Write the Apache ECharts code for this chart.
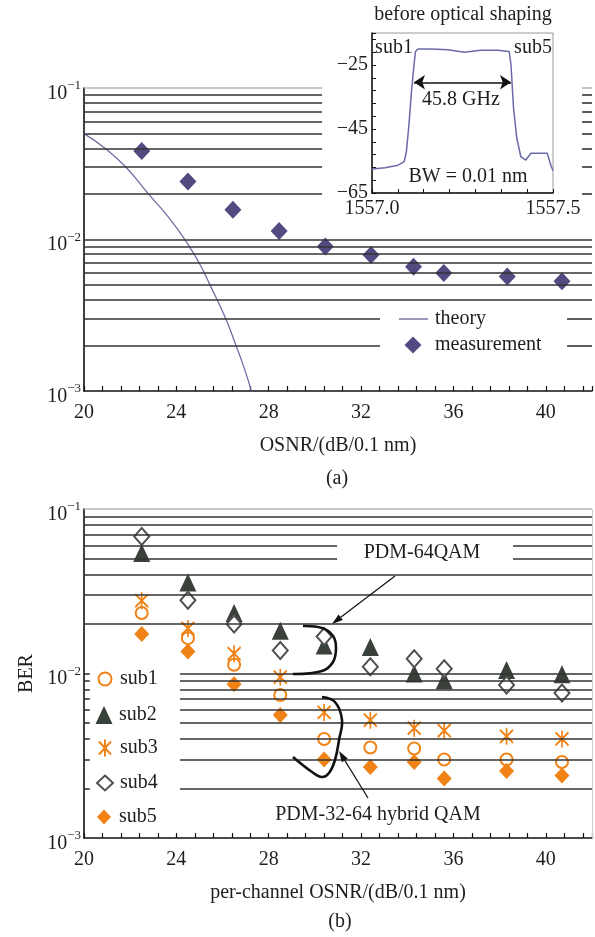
<!DOCTYPE html>
<html>
<head>
<meta charset="utf-8">
<script src="https://cdn.jsdelivr.net/npm/echarts@6/dist/echarts.min.js"></script>
<style>
html,body{margin:0;padding:0;background:#fff;}
#c{width:595px;height:937px;}
</style>
</head>
<body>
<div id="c"></div>
<script>
// ---------- data ----------
const osnrA = [22.5, 24.5, 26.45, 28.45, 30.45, 32.43, 34.27, 35.58, 38.33, 40.7];
const berMeasured = [0.0384, 0.0241, 0.0157, 0.0114, 0.0090, 0.0079, 0.0066, 0.0060, 0.0057, 0.0053];
const theoryOsnr = [20, 20.91, 21.82, 22.79, 23.7, 24.42, 24.99, 25.46, 26.14, 26.58, 26.95, 27.25];
const theoryBer = [0.05, 0.04, 0.03, 0.02, 0.0138, 0.0097, 0.007, 0.005, 0.003, 0.002, 0.0014, 0.001];

const osnrB = [22.5, 24.5, 26.5, 28.5, 30.4, 32.4, 34.3, 35.6, 38.3, 40.7];
const subNames = ['sub1', 'sub2', 'sub3', 'sub4', 'sub5'];
const sub1 = [0.0233, 0.0164, 0.0113, 0.0074, 0.0040, 0.00355, 0.0035, 0.0030, 0.0030, 0.0029];
const sub2 = [0.054, 0.0358, 0.0233, 0.0182, 0.0148, 0.0145, 0.0100, 0.0091, 0.0105, 0.0099];
const sub3 = [0.0277, 0.0188, 0.0132, 0.0095, 0.0058, 0.0052, 0.00465, 0.0045, 0.00415, 0.0040];
const sub4 = [0.068, 0.0279, 0.0200, 0.0138, 0.0168, 0.0110, 0.0123, 0.0107, 0.0085, 0.0076];
const sub5 = [0.0174, 0.0136, 0.0086, 0.0056, 0.0030, 0.0027, 0.0029, 0.0023, 0.00255, 0.0024];

const specWl = [1557.000, 1557.036, 1557.072, 1557.089, 1557.095, 1557.102, 1557.109, 1557.116, 1557.120, 1557.127, 1557.164, 1557.210, 1557.255, 1557.300, 1557.347, 1557.379, 1557.384, 1557.391, 1557.400, 1557.411, 1557.425, 1557.439, 1557.466, 1557.484, 1557.494, 1557.500];
const specPow = [-57.5, -57.1, -56.3, -55.2, -52.1, -43.8, -33.3, -25.0, -20.8, -20.0, -20.0, -20.2, -21.0, -20.4, -20.4, -20.8, -25.0, -38.5, -47.9, -53.6, -54.7, -52.6, -52.6, -52.6, -56.3, -58.0];

// log grid levels (horizontal lines)
const gridLevels = [0.002, 0.003, 0.004, 0.005, 0.006, 0.007, 0.008, 0.009, 0.01,
                    0.02, 0.03, 0.04, 0.05, 0.06, 0.07, 0.08, 0.09, 0.1];
const bwArrow = [1557.116, 1557.384, -30.4];

// ---------- layout ----------
const FONT = 'Liberation Serif';
const TXT = '#1e1e1e';
const ORANGE = '#f08216';
const DARK = '#3a403a';
const PURPLE = '#524a80';
const gapsA = [
  {levels: [0.02, 0.03, 0.04, 0.05, 0.06, 0.07, 0.08, 0.09, 0.1], x: [30.31, 41.57]},
  {levels: [0.002, 0.003], x: [32.82, 40.92]}
];
const gapsB = [
  {levels: [0.05, 0.06], x: [30.96, 38.58]},
  {levels: [0.002, 0.003, 0.004, 0.005, 0.006, 0.007, 0.008, 0.009, 0.01], x: [20.25, 24.16]}
];

function buildGridLines(gaps, xMin, xMax) {
  const out = [];
  gridLevels.forEach(v => {
    const style = {color: v === 0.1 ? '#b4b4b4' : '#333', width: 1.6, type: 'solid'};
    let segs = [[xMin, xMax]];
    gaps.forEach(g => {
      if (g.levels.indexOf(v) >= 0) {
        const ns = [];
        segs.forEach(s => {
          if (g.x[0] > s[0]) ns.push([s[0], Math.min(s[1], g.x[0])]);
          if (g.x[1] < s[1]) ns.push([Math.max(s[0], g.x[1]), s[1]]);
        });
        segs = ns;
      }
    });
    segs.forEach(s => out.push([{coord: [s[0], v], lineStyle: style}, {coord: [s[1], v]}]));
  });
  return out;
}

function yLab(v) {
  const e = Math.round(Math.log10(v));
  return '{b|10}{s|\u2212' + Math.abs(e) + '}';
}
const yRich = {
  b: {fontFamily: FONT, fontSize: 20, color: TXT, lineHeight: 24, verticalAlign: 'bottom'},
  s: {fontFamily: FONT, fontSize: 13, color: TXT, lineHeight: 13, verticalAlign: 'top'}
};

function xAxisCfg(idx, name) {
  return {
    type: 'value', gridIndex: idx, min: 20, max: 42, interval: 4,
    name: name, nameLocation: 'middle', nameGap: 45,
    nameTextStyle: {fontFamily: FONT, fontSize: 20, color: TXT},
    axisLine: {lineStyle: {color: '#111', width: 1.6}},
    axisTick: {inside: true, length: 5, lineStyle: {color: '#111', width: 1.2}},
    minorTick: {show: true, splitNumber: 5, length: 5, lineStyle: {color: '#111', width: 1.2}},
    axisLabel: {fontFamily: FONT, fontSize: 20, color: TXT, margin: 12, showMaxLabel: false},
    splitLine: {show: false}, minorSplitLine: {show: false}
  };
}
function yAxisCfg(idx, name) {
  return {
    type: 'log', logBase: 10, gridIndex: idx, min: 0.001, max: 0.1,
    name: name || '', nameLocation: 'middle', nameGap: 47, nameRotate: 90,
    nameTextStyle: {fontFamily: FONT, fontSize: 20, color: TXT},
    axisLine: {lineStyle: {color: '#111', width: 1.6}},
    axisTick: {show: false},
    axisLabel: {formatter: yLab, rich: yRich, margin: 3, padding: [7, 0, 0, 0]},
    splitLine: {show: false}
  };
}

function arrow(x1, y1, x2, y2) {
  const dx = x2 - x1, dy = y2 - y1, L = Math.sqrt(dx * dx + dy * dy);
  const ux = dx / L, uy = dy / L, nx = -uy, ny = ux;
  const bx = x2 - ux * 11, by = y2 - uy * 11;
  return [
    {type: 'line', z: 100, shape: {x1: x1, y1: y1, x2: bx, y2: by}, style: {stroke: '#111', lineWidth: 1.2}},
    {type: 'polygon', z: 100, shape: {points: [[x2, y2], [bx + nx * 3.5, by + ny * 3.5], [bx - nx * 3.5, by - ny * 3.5]]}, style: {fill: '#111'}}
  ];
}
function txt(t, x, y, size) {
  return {type: 'text', z: 100, x: x, y: y,
    style: {text: t, font: (size || 20) + 'px "' + FONT + '"', fill: TXT, align: 'center', verticalAlign: 'middle'}};
}
const asterisk = 'path://M6,0 L6,17 M0,2 L12,15 M0,15 L12,2';
const legendText = {fontFamily: FONT, fontSize: 20, color: TXT, lineHeight: 20};

// legend boxes: [name, iconCenterX, rowCenterY, iconW, iconH, textStartX]
const legendLayout = [
  ['measurement', 413, 345, 17, 17, 435],
  ['sub1', 104, 679, 13, 13, 119],
  ['sub2', 104, 715, 17, 18, 119],
  ['sub3', 104, 748, 12, 17, 119],
  ['sub4', 104, 783, 16, 15, 119],
  ['sub5', 104, 817, 14, 15, 119]
];
const legends = [
  {data: [{name: 'theory', icon: 'rect'}], orient: 'vertical', left: 399, top: 309, padding: 0,
    itemWidth: 29, itemHeight: 1.4, textStyle: Object.assign({padding: [0, 0, 0, 2]}, legendText)}
].concat(legendLayout.map(l => {
  const left = l[1] - l[3] / 2;
  const pad = l[5] - (left + l[3] + 5);
  return {data: [l[0]], orient: 'vertical', left: left, top: l[2] - 10, padding: 0,
    itemWidth: l[3], itemHeight: l[4],
    textStyle: Object.assign({padding: [0, 0, 0, pad]}, legendText)};
}));

const subData = [sub1, sub2, sub3, sub4, sub5];
const subSymbols = ['emptyCircle', 'triangle', asterisk, 'emptyDiamond', 'diamond'];
const subSizes = [12, [17, 18], [13, 17], [15, 17], [15, 16]];
const subItemStyles = [
  {color: ORANGE, borderColor: ORANGE, borderWidth: 1.7, opacity: 1},
  {color: DARK, opacity: 1},
  {color: 'rgba(0,0,0,0)', borderColor: ORANGE, borderWidth: 1.9, opacity: 1},
  {color: '#505050', borderColor: '#505050', borderWidth: 1.5, opacity: 1},
  {color: ORANGE, opacity: 1}
];

const chart = echarts.init(document.getElementById('c'), null, {renderer: 'canvas'});
const option = {
  animation: false,
  backgroundColor: '#fff',
  grid: [
    {left: 84, top: 88, width: 508, height: 303},
    {left: 84, top: 509, width: 508, height: 329},
    {left: 372, top: 33, width: 181, height: 160, show: true, backgroundColor: '#fff', borderColor: '#9a9a9a', borderWidth: 1}
  ],
  xAxis: [
    xAxisCfg(0, 'OSNR/(dB/0.1 nm)'),
    xAxisCfg(1, 'per-channel OSNR/(dB/0.1 nm)'),
    {
      type: 'value', gridIndex: 2, min: 1557.0, max: 1557.5, interval: 0.5,
      axisLine: {lineStyle: {color: '#111', width: 1.5}},
      axisTick: {inside: true, length: 4, lineStyle: {color: '#111'}},
      minorTick: {show: true, splitNumber: 7, length: 4, lineStyle: {color: '#111'}},
      axisLabel: {fontFamily: FONT, fontSize: 20, color: TXT, margin: 6, formatter: v => v.toFixed(1)},
      splitLine: {show: false}
    }
  ],
  yAxis: [
    yAxisCfg(0),
    yAxisCfg(1, 'BER'),
    {
      type: 'value', gridIndex: 2, min: -65, max: -15, interval: 20,
      axisLine: {lineStyle: {color: '#111', width: 1.5}},
      axisTick: {inside: true, length: 4, lineStyle: {color: '#111'}},
      minorTick: {show: true, splitNumber: 5, length: 4, lineStyle: {color: '#111'}},
      axisLabel: {fontFamily: FONT, fontSize: 20, color: TXT, margin: 4, showMaxLabel: false,
        formatter: v => String(v).replace('-', '\u2212')},
      splitLine: {show: false}
    }
  ],
  legend: legends,
  series: [
    {type: 'line', xAxisIndex: 0, yAxisIndex: 0, data: [], z: 1, silent: true,
      markLine: {silent: true, symbol: ['none', 'none'], label: {show: false}, animation: false,
        data: buildGridLines(gapsA, 20, 42)}},
    {type: 'line', xAxisIndex: 1, yAxisIndex: 1, data: [], z: 1, silent: true,
      markLine: {silent: true, symbol: ['none', 'none'], label: {show: false}, animation: false,
        data: buildGridLines(gapsB, 20, 42).concat([[{coord: [42, 0.001], lineStyle: {color: '#cfcfcf', width: 1, type: 'solid'}}, {coord: [42, 0.1]}]])}},
    {name: 'theory', type: 'line', xAxisIndex: 0, yAxisIndex: 0, smooth: 0.5, symbol: 'none', z: 3,
      lineStyle: {color: '#6e6ea2', width: 1.3}, itemStyle: {color: '#6e6ea2'},
      data: theoryOsnr.map((x, i) => [x, theoryBer[i]])},
    {name: 'measurement', type: 'scatter', xAxisIndex: 0, yAxisIndex: 0, symbol: 'diamond', symbolSize: [17, 18], z: 4,
      itemStyle: {color: PURPLE, opacity: 1},
      data: osnrA.map((x, i) => [x, berMeasured[i]])}
  ].concat(subNames.map((n, k) => ({
      name: n, type: 'scatter', xAxisIndex: 1, yAxisIndex: 1, symbol: subSymbols[k], symbolSize: subSizes[k], z: 4,
      itemStyle: subItemStyles[k],
      data: osnrB.map((x, i) => [x, subData[k][i]])
  }))).concat([
    {name: 'spectrum', type: 'line', xAxisIndex: 2, yAxisIndex: 2, symbol: 'none', z: 3,
      lineStyle: {color: '#6a6aa8', width: 1.5},
      data: specWl.map((x, i) => [x, specPow[i]]),
      markLine: {silent: true, symbol: ['arrow', 'arrow'], symbolSize: 11, label: {show: false}, animation: false,
        lineStyle: {color: '#111', width: 1.5, type: 'solid'},
        data: [[{coord: [bwArrow[0], bwArrow[2]]}, {coord: [bwArrow[1], bwArrow[2]]}]]}}
  ]),
  graphic: [
    txt('before optical shaping', 463, 15),
    txt('sub1', 394, 48),
    txt('sub5', 533, 48),
    txt('45.8 GHz', 461, 100),
    txt('BW = 0.01 nm', 468, 177),
    txt('(a)', 337, 479),
    txt('(b)', 340, 922),
    txt('PDM-64QAM', 422, 553),
    txt('PDM-32-64 hybrid QAM', 378, 815),
    {type: 'polyline', z: 100, shape: {points: [[303, 626], [322, 628], [333, 636], [336, 648], [333, 662], [322, 671], [293, 674]], smooth: 0.4},
      style: {stroke: '#111', lineWidth: 2.6, fill: null}},
    {type: 'polyline', z: 100, shape: {points: [[322, 697], [335, 702], [342, 720], [339, 740], [335, 760], [329, 773], [322, 777], [312, 772], [293, 757]], smooth: 0.4},
      style: {stroke: '#111', lineWidth: 2.6, fill: null}}
  ].concat(arrow(395, 576, 332, 624)).concat(arrow(368, 798, 339, 751))
};
chart.setOption(option);
</script>
</body>
</html>
